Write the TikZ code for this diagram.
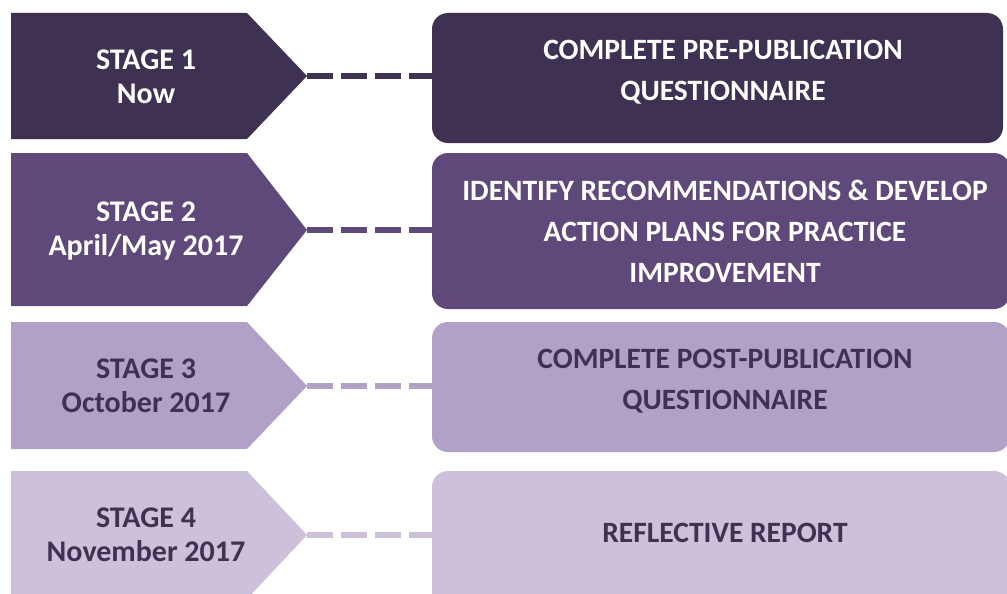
\documentclass[tikz,border=0pt]{standalone}
\usepackage{fontspec}
\setmainfont{Carlito}
\usetikzlibrary{positioning}

\definecolor{stageone}{HTML}{3F3151}
\definecolor{stagetwo}{HTML}{5F497A}
\definecolor{stagethree}{HTML}{B2A1C7}
\definecolor{stagefour}{HTML}{CCC0DA}

\tikzset{
  stagetxt/.style={font=\bfseries\fontsize{30}{34}\selectfont, align=center, inner sep=0pt},
  boxtxt/.style={font=\bfseries\fontsize{29.5}{41}\selectfont, align=center, inner sep=0pt},
  panel/.style={rounded corners=16pt, inner sep=0pt, outer sep=0pt, minimum width=578pt},
  link/.style={line width=5.5pt, dash pattern=on 26pt off 8pt}
}

\begin{document}
\begin{tikzpicture}[line join=miter, x=1pt, y=-1pt]
				\useasboundingbox (0,0) rectangle (1007,594);
				\clip (0,0) rectangle (1007,594);
				% stage arrows
				\fill [stageone] (11,13) -- (247,13) -- (307,76) -- (247,139) -- (11,139) -- cycle;
				\fill [stagetwo] (11,153) -- (247,153) -- (307,230) -- (247,306) -- (11,306) -- cycle;
				\fill [stagethree] (11,322) -- (247,322) -- (307,386) -- (247,449) -- (11,449) -- cycle;
				\fill [stagefour] (11,471) -- (247,471) -- (307,535) -- (247,599) -- (11,599) -- cycle;
				
				\coordinate (tip1) at (307,76);
				\coordinate (tip2) at (307,230);
				\coordinate (tip3) at (307,386);
				\coordinate (tip4) at (307,535);
				
				\node[stagetxt, text=white] (stage1) at (146,77) {STAGE 1\\Now};
				\node[stagetxt, text=white] (stage2) at (146,231) {STAGE 2\\April/May 2017};
				\node[stagetxt, text=stageone] (stage3) at (146,386) {STAGE 3\\October 2017};
				\node[stagetxt, text=stageone] (stage4) at (146,535) {STAGE 4\\November 2017};
				
				% right hand panels
				\node[panel, fill=stageone, minimum width=571pt, minimum height=130pt] (box1) at (717.5,78) {};
				\node[panel, fill=stagetwo, minimum height=156pt] (box2) at (721,231) {};
				\node[panel, fill=stagethree, minimum height=130pt] (box3) at (721,387) {};
				\node[panel, fill=stagefour, minimum height=140pt] (box4) at (721,541) {};
				
				\node[boxtxt, text=white] (task1) at (723,72) {COMPLETE PRE-PUBLICATION\\QUESTIONNAIRE};
				\node[boxtxt, text=white] (task2) at (725,231) {IDENTIFY RECOMMENDATIONS \& DEVELOP\\ACTION PLANS FOR PRACTICE\\IMPROVEMENT};
				\node[boxtxt, text=stageone] (task3) at (725,381) {COMPLETE POST-PUBLICATION\\QUESTIONNAIRE};
				\node[boxtxt, text=stageone] (task4) at (725,533) {REFLECTIVE REPORT};
				
				% dashed links
				\draw [link, stageone] (tip1) -- (tip1 -| box1.west);
				\draw [link, stagetwo] (tip2) -- (tip2 -| box2.west);
				\draw [link, stagethree] (tip3) -- (tip3 -| box3.west);
				\draw [link, stagefour] (tip4) -- (tip4 -| box4.west);
\end{tikzpicture}
\end{document}
